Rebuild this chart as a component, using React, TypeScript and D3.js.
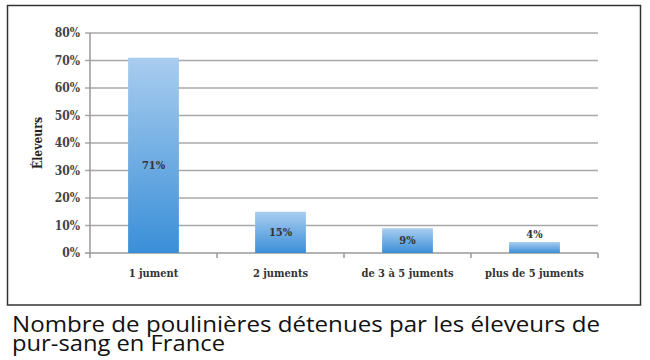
import React from 'react';
import * as d3 from 'd3';

const categories = ['1 jument', '2 juments', 'de 3 à 5 juments', 'plus de 5 juments'];
const values = [71, 15, 9, 4];
const valueLabels = ['71%', '15%', '9%', '4%'];
const yTicks = [0, 10, 20, 30, 40, 50, 60, 70, 80];
const yTitle = 'Éleveurs';
const captionLines = ['Nombre de poulinières détenues par les éleveurs de', 'pur-sang en France'];

const W = 650;
const H = 360;
const margin = { top: 33, right: 52, bottom: 107, left: 90 };
const serif = '"DejaVu Serif Condensed", "Liberation Serif", serif';

const App = () => {
  const x = d3.scaleBand()
    .domain(categories)
    .range([margin.left, W - margin.right])
    .paddingInner(0.6)
    .paddingOuter(0.3);

  const y = d3.scaleLinear()
    .domain([0, 80])
    .range([H - margin.bottom, margin.top]);

  const step = x.step();
  const bw = x.bandwidth();
  const y0 = y(0);

  return (
    <svg width={W} height={H} style={{ position: 'absolute', left: 0, top: 0, background: '#fff' }}>
      <defs>
        <linearGradient id="barFill" x1="0" y1="0" x2="0" y2="1">
          <stop offset="0%" stopColor="#a9cdef" />
          <stop offset="100%" stopColor="#3a8fd8" />
        </linearGradient>
      </defs>

      <rect x={7.5} y={5.5} width={633} height={299.5} fill="none" stroke="#333" strokeWidth={1.5} />

      {yTicks.map(t => (
        <g key={t}>
          <line x1={margin.left - 5} x2={W - margin.right} y1={y(t)} y2={y(t)}
            stroke={t === 0 ? '#999' : '#a8a8a8'} strokeWidth={1.5} />
          <text x={80} y={y(t)} dy="0.35em" textAnchor="end"
            fontFamily={serif} fontWeight="bold" fontSize={12} fill="#444">{t}%</text>
        </g>
      ))}

      <line x1={margin.left} x2={margin.left} y1={margin.top} y2={y0} stroke="#999" strokeWidth={1.5} />
      {d3.range(categories.length + 1).map(i => {
        const tx = margin.left + i * step;
        return <line key={i} x1={tx} x2={tx} y1={y0} y2={y0 + 5} stroke="#999" strokeWidth={1.5} />;
      })}

      {categories.map((c, i) => (
        <g key={c}>
          <rect x={x(c)} y={y(values[i])} width={bw} height={y0 - y(values[i])} fill="url(#barFill)" />
          <text x={(x(c) as number) + bw / 2}
            y={values[i] < 5 ? y(values[i]) - 8 : (y(values[i]) + y0) / 2 + (i === 0 ? 10 : 0)}
            dy="0.35em" textAnchor="middle"
            fontFamily={serif} fontWeight="bold" fontSize={11} fill="#333">{valueLabels[i]}</text>
          <text x={(x(c) as number) + bw / 2} y={y0 + 20} dy="0.35em" textAnchor="middle"
            fontFamily={serif} fontWeight="bold" fontSize={11} fill="#333">{c}</text>
        </g>
      ))}

      <text transform={`translate(38,${(margin.top + y0) / 2}) rotate(-90)`} textAnchor="middle" dy="0.35em"
        fontFamily={serif} fontWeight="bold" fontSize={12} fill="#222">{yTitle}</text>

      <text fontFamily='"Open Sans", sans-serif' fontSize={22} fill="#111">
        <tspan x={12} y={332} textLength={588} lengthAdjust="spacingAndGlyphs">{captionLines[0]}</tspan>
        <tspan x={12} y={351} textLength={213} lengthAdjust="spacingAndGlyphs">{captionLines[1]}</tspan>
      </text>
    </svg>
  );
};

export default App;
